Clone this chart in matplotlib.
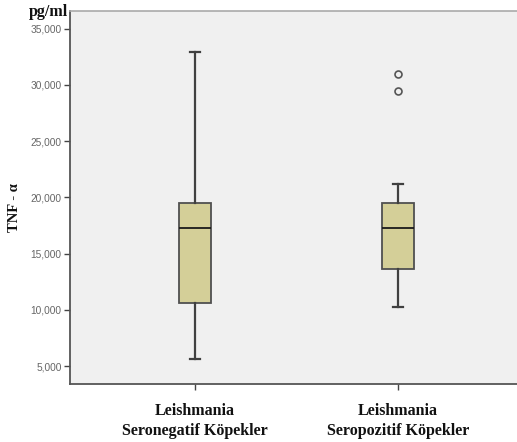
import matplotlib
matplotlib.use("Agg")
import matplotlib.pyplot as plt

categories = ["Leishmania\nSeronegatif Köpekler", "Leishmania\nSeropozitif Köpekler"]
whislo = [5620, 10250]
q1 = [10630, 13600]
med = [17250, 17250]
q3 = [19530, 19530]
whishi = [32950, 21220]
outliers = [[], [30950, 29470]]
yticks = [5000, 10000, 15000, 20000, 25000, 30000, 35000]

fig = plt.figure(figsize=(5.17, 4.42), dpi=100)
ax = fig.add_axes([70/517, 58/442, 447/517, 373/442])
ax.set_facecolor("#f0f0f0")

stats = []
for i in range(len(categories)):
    stats.append(dict(whislo=whislo[i], q1=q1[i], med=med[i], q3=q3[i],
                      whishi=whishi[i], fliers=outliers[i], label=categories[i]))

edge = "#404040"
ax.bxp(stats, positions=[1, 2], widths=0.161, patch_artist=True,
       boxprops=dict(facecolor="#d4cf98", edgecolor="#505050", linewidth=1.3),
       medianprops=dict(color="#1a1a1a", linewidth=1.3),
       whiskerprops=dict(color=edge, linewidth=1.6),
       capprops=dict(color=edge, linewidth=1.6),
       capwidths=0.045,
       flierprops=dict(marker="o", markerfacecolor="none", markeredgecolor="#555555",
                       markersize=5, markeredgewidth=1.2))

ax.set_xlim(0.384, 2.586)
ax.set_ylim(3400, 36580)
ax.set_yticks(yticks)
ax.set_yticklabels([f"{v:,}" for v in yticks], fontsize=7.3, color="#666666",
                   family="Liberation Sans")
ax.set_xticks([1, 2])
ax.set_xticklabels(categories, fontsize=11.5, fontweight="bold", family="Liberation Serif",
                   color="#111111", linespacing=1.3)
ax.tick_params(axis="y", length=4, width=1, color="#444444", pad=2)
ax.tick_params(axis="x", length=4, width=1, color="#444444", pad=10)

for s in ["left", "bottom"]:
    ax.spines[s].set_color("#555555")
    ax.spines[s].set_linewidth(1.3)
ax.spines["top"].set_color("#aaaaaa")
ax.spines["top"].set_linewidth(1.2)
ax.spines["right"].set_visible(False)

fig.text(15/517, 1 - 208/442, "TNF - α", rotation=90, ha="center", va="center",
         fontsize=10.5, fontweight="bold", family="Liberation Serif", color="#111111")
fig.text(48/517, 1 - 12/442, "pg/ml", ha="center", va="center",
         fontsize=11.5, fontweight="bold", family="Liberation Serif", color="#111111")

fig.savefig("out.png", dpi=100)
